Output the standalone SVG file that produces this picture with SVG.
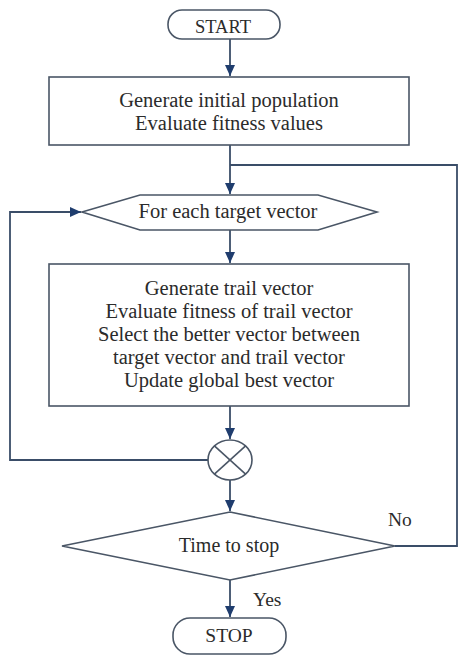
<svg xmlns="http://www.w3.org/2000/svg" width="461" height="656" viewBox="0 0 461 656">
<style>
.shape{fill:#ffffff;stroke:#4a5666;stroke-width:1.6}
.conn{fill:none;stroke:#3a4d68;stroke-width:1.8}
.lbl{font-family:"Liberation Serif","Times New Roman",serif;font-size:20.5px;fill:#2b2b2b;text-anchor:middle}
.lbl-l{font-family:"Liberation Serif","Times New Roman",serif;font-size:19.5px;fill:#2b2b2b;text-anchor:start}
</style>
<defs>
<marker id="arr" markerUnits="userSpaceOnUse" markerWidth="12" markerHeight="12" viewBox="0 0 12 12" refX="11" refY="6" orient="auto">
<path d="M0,1 L11,6 L0,11 Z" fill="#1f3d6e"/>
</marker>
</defs>
<rect width="461" height="656" fill="#ffffff"/>
<g id="connectors">
<line class="conn" x1="230" y1="39" x2="230" y2="76" marker-end="url(#arr)"/>
<line class="conn" x1="230" y1="145" x2="230" y2="194" marker-end="url(#arr)"/>
<line class="conn" x1="230" y1="230" x2="230" y2="263" marker-end="url(#arr)"/>
<line class="conn" x1="230" y1="406" x2="230" y2="439" marker-end="url(#arr)"/>
<line class="conn" x1="230" y1="480" x2="230" y2="511" marker-end="url(#arr)"/>
<line class="conn" x1="230" y1="580" x2="230" y2="617" marker-end="url(#arr)"/>
<polyline class="conn" points="208,460 10,460 10,212 81,212" marker-end="url(#arr)"/>
<polyline class="conn" points="395,546 457,546 457,165 230,165"/>
<text class="lbl-l" x="388" y="526">No</text>
<text class="lbl-l" x="253" y="606">Yes</text>
</g>
<g id="start">
<rect class="shape" x="168" y="10" width="112" height="29" rx="14" ry="14"/>
<text class="lbl" x="223" y="33" style="font-size:18.5px">START</text>
</g>
<g id="init">
<rect class="shape" x="49" y="77" width="360" height="68"/>
<text class="lbl" x="229" y="107">Generate initial population</text>
<text class="lbl" x="229" y="130">Evaluate fitness values</text>
</g>
<g id="foreach">
<polygon class="shape" points="82,212 140,195 318,195 377,212 318,230 140,230"/>
<text class="lbl" x="228" y="218">For each target vector</text>
</g>
<g id="process">
<rect class="shape" x="49" y="264" width="360" height="142"/>
<text class="lbl" x="229" y="295">Generate trail vector</text>
<text class="lbl" x="229" y="318">Evaluate fitness of trail vector</text>
<text class="lbl" x="229" y="341">Select the better vector between</text>
<text class="lbl" x="229" y="364">target vector and trail vector</text>
<text class="lbl" x="229" y="387">Update global best vector</text>
</g>
<g id="join">
<ellipse class="shape" cx="230" cy="460" rx="22" ry="20"/>
<line class="shape" x1="214.4" y1="445.9" x2="245.6" y2="474.1"/>
<line class="shape" x1="245.6" y1="445.9" x2="214.4" y2="474.1"/>
</g>
<g id="decision">
<polygon class="shape" points="230,512 395,546 230,580 62,546"/>
<text class="lbl" x="229" y="552" style="font-size:20px">Time to stop</text>
</g>
<g id="stop">
<rect class="shape" x="173" y="618" width="113" height="36" rx="17" ry="17"/>
<text class="lbl" x="229" y="642" style="font-size:19.5px">STOP</text>
</g>
</svg>
